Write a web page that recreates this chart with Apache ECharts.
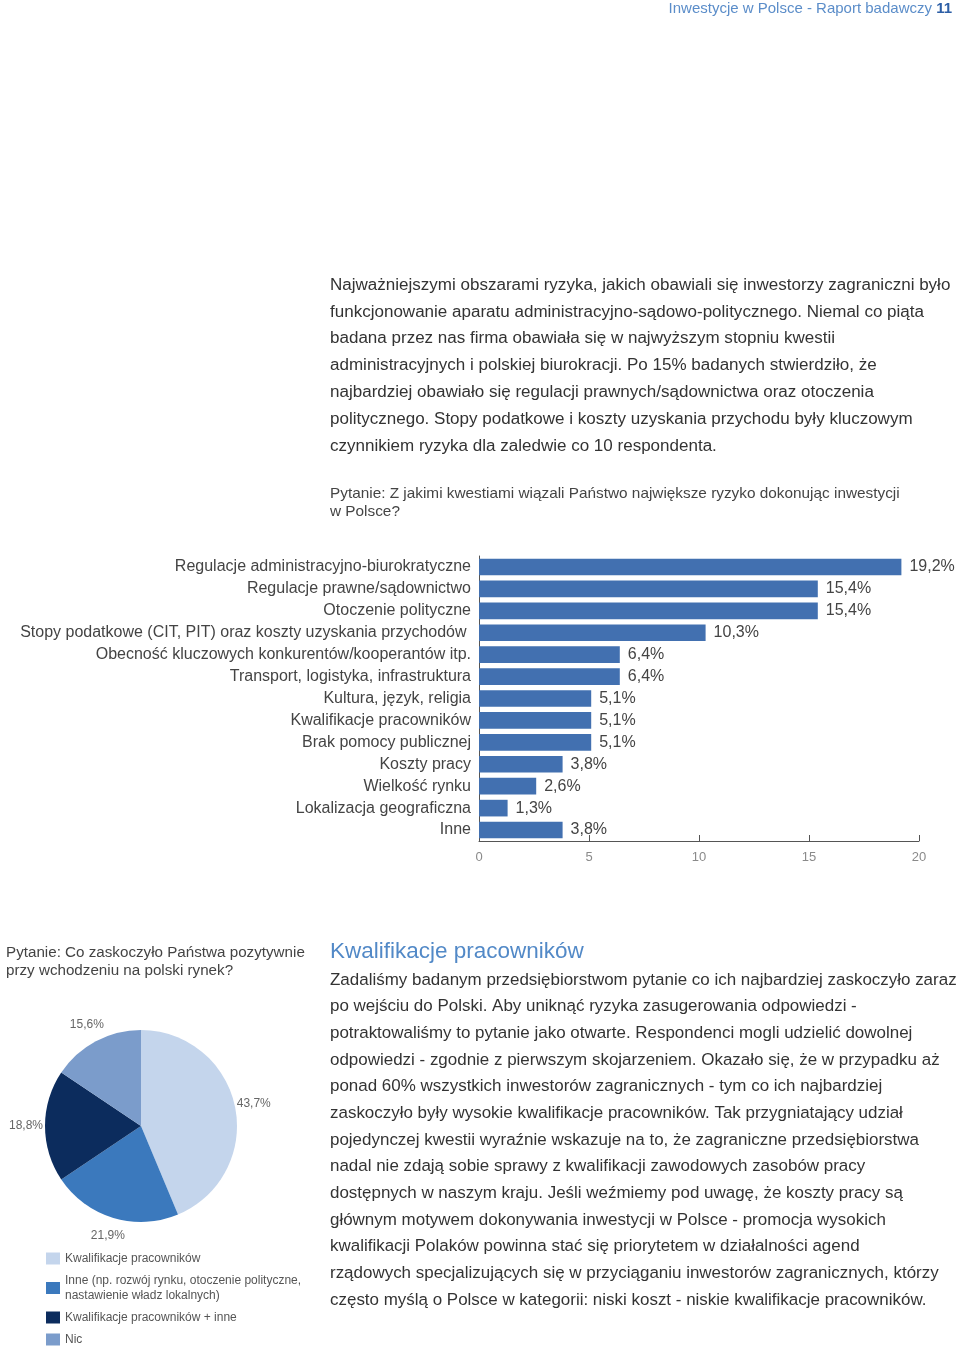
<!DOCTYPE html>
<html>
<head>
<meta charset="utf-8">
<script src="https://cdn.jsdelivr.net/npm/echarts@6/dist/echarts.min.js"></script>
<style>
html,body{margin:0;padding:0;background:#ffffff;}
#chart{width:960px;height:1349px;}
</style>
</head>
<body>
<div id="chart"></div>
<script>
// ---------- DATA ----------
const riskCategories = [
  'Regulacje administracyjno-biurokratyczne',
  'Regulacje prawne/sądownictwo',
  'Otoczenie polityczne',
  'Stopy podatkowe (CIT, PIT) oraz koszty uzyskania przychodów ',
  'Obecność kluczowych konkurentów/kooperantów itp.',
  'Transport, logistyka, infrastruktura',
  'Kultura, język, religia',
  'Kwalifikacje pracowników',
  'Brak pomocy publicznej',
  'Koszty pracy',
  'Wielkość rynku',
  'Lokalizacja geograficzna',
  'Inne'
];
const riskValues = [19.2, 15.4, 15.4, 10.3, 6.4, 6.4, 5.1, 5.1, 5.1, 3.8, 2.6, 1.3, 3.8];
const riskAxisMin = 0;
const riskAxisMax = 20;
const riskAxisStep = 5;

const surpriseNames = [
  'Kwalifikacje pracowników',
  'Inne (np. rozwój rynku, otoczenie polityczne, nastawienie władz lokalnych)',
  'Kwalifikacje pracowników + inne',
  'Nic'
];
const surpriseValues = [43.7, 21.9, 18.8, 15.6];

const headerMain = 'Inwestycje w Polsce - Raport badawczy ';
const headerPage = '11';
const paragraph1Lines = [
  'Najważniejszymi obszarami ryzyka, jakich obawiali się inwestorzy zagraniczni było',
  'funkcjonowanie aparatu administracyjno-sądowo-politycznego. Niemal co piąta',
  'badana przez nas firma obawiała się w najwyższym stopniu kwestii',
  'administracyjnych i polskiej biurokracji. Po 15% badanych stwierdziło, że',
  'najbardziej obawiało się regulacji prawnych/sądownictwa oraz otoczenia',
  'politycznego. Stopy podatkowe i koszty uzyskania przychodu były kluczowym',
  'czynnikiem ryzyka dla zaledwie co 10 respondenta.'
];
const question1Lines = [
  'Pytanie: Z jakimi kwestiami wiązali Państwo największe ryzyko dokonując inwestycji',
  'w Polsce?'
];
const question2Lines = [
  'Pytanie: Co zaskoczyło Państwa pozytywnie',
  'przy wchodzeniu na polski rynek?'
];
const sectionTitle = 'Kwalifikacje pracowników';
const paragraph2Lines = [
  'Zadaliśmy badanym przedsiębiorstwom pytanie co ich najbardziej zaskoczyło zaraz',
  'po wejściu do Polski. Aby uniknąć ryzyka zasugerowania odpowiedzi -',
  'potraktowaliśmy to pytanie jako otwarte. Respondenci mogli udzielić dowolnej',
  'odpowiedzi - zgodnie z pierwszym skojarzeniem. Okazało się, że w przypadku aż',
  'ponad 60% wszystkich inwestorów zagranicznych - tym co ich najbardziej',
  'zaskoczyło były wysokie kwalifikacje pracowników. Tak przygniatający udział',
  'pojedynczej kwestii wyraźnie wskazuje na to, że zagraniczne przedsiębiorstwa',
  'nadal nie zdają sobie sprawy z kwalifikacji zawodowych zasobów pracy',
  'dostępnych w naszym kraju. Jeśli weźmiemy pod uwagę, że koszty pracy są',
  'głównym motywem dokonywania inwestycji w Polsce - promocja wysokich',
  'kwalifikacji Polaków powinna stać się priorytetem w działalności agend',
  'rządowych specjalizujących się w przyciąganiu inwestorów zagranicznych, którzy',
  'często myślą o Polsce w kategorii: niski koszt - niskie kwalifikacje pracowników.'
];

// ---------- STYLE ----------
const FF = "'Liberation Sans', Arial, Helvetica, sans-serif";
const pieColors = ['#c4d5ec', '#3b79bd', '#0c2c5d', '#7b9ccb'];
const barColor = '#4270b0';
const blue = '#5289c7';

const measureCtx = document.createElement('canvas').getContext('2d');
function fitSize(text, target) {
  measureCtx.font = '100px ' + FF;
  return 100 * target / measureCtx.measureText(text).width;
}
function fmtPct(v) { return String(v).replace('.', ',') + '%'; }

const p1Size = fitSize(paragraph1Lines[0], 621);
const p2Size = fitSize(paragraph2Lines[0], 627);
const q1Size = fitSize(question1Lines[0], 570);
const q2Size = fitSize(question2Lines[0], 299);

function textLines(lines, x, y0, step, size, color) {
  return lines.map((t, i) => ({
    type: 'text', x: x, y: y0 + i * step, silent: true,
    style: { text: t, fontSize: size, fontFamily: FF, fill: color, align: 'left', verticalAlign: 'middle' }
  }));
}

const graphics = []
  .concat([{
    type: 'text', x: 952, y: 9, silent: true,
    style: {
      text: '{a|' + headerMain + '}{b|' + headerPage + '}',
      align: 'right', verticalAlign: 'middle', fontFamily: FF,
      rich: {
        a: { fontSize: 15, fontFamily: FF, fill: '#5b8dc9' },
        b: { fontSize: 15, fontFamily: FF, fontWeight: 'bold', fill: '#2d5fa6' }
      }
    }
  }])
  .concat(textLines(paragraph1Lines, 330, 285, 26.8, p1Size, '#333333'))
  .concat(textLines(question1Lines, 330, 494, 18, q1Size, '#444444'))
  .concat(textLines(question2Lines, 6, 953, 18, q2Size, '#444444'))
  .concat([{
    type: 'text', x: 330, y: 952, silent: true,
    style: { text: sectionTitle, fontSize: 22.5, fontFamily: FF, fill: blue, align: 'left', verticalAlign: 'middle' }
  }])
  .concat(textLines(paragraph2Lines, 330, 980, 26.67, p2Size, '#333333'));

const chart = echarts.init(document.getElementById('chart'), null, { renderer: 'canvas' });
const option = {
  animation: false,
  backgroundColor: '#ffffff',
  textStyle: { fontFamily: FF },
  grid: { left: 479, top: 556, width: 440, height: 285, containLabel: false },
  xAxis: {
    type: 'value', min: riskAxisMin, max: riskAxisMax, interval: riskAxisStep,
    axisLine: { show: true, lineStyle: { color: '#555555', width: 1 } },
    axisTick: { show: true, inside: true, length: 6, lineStyle: { color: '#555555' } },
    axisLabel: { color: '#8a8a8a', fontSize: 13, margin: 10 },
    splitLine: { show: false }
  },
  yAxis: {
    type: 'category', inverse: true, data: riskCategories,
    axisLine: { show: true, lineStyle: { color: '#555555', width: 1 } },
    axisTick: { show: false },
    axisLabel: { color: '#444444', fontSize: 16, margin: 8 }
  },
  legend: {
    orient: 'vertical', left: 46, top: 1251, height: 120, padding: 0,
    itemWidth: 14, itemHeight: 12, itemGap: 7, icon: 'rect',
    selectedMode: false,
    data: surpriseNames,
    formatter: n => n.replace(', nastawienie', ',\nnastawienie'),
    textStyle: { fontSize: 12, color: '#555555', lineHeight: 15, fontFamily: FF }
  },
  series: [
    {
      type: 'bar', data: riskValues, barCategoryGap: '24%',
      itemStyle: { color: barColor },
      label: { show: true, position: 'right', distance: 8, color: '#444444', fontSize: 16, formatter: p => fmtPct(p.value) }
    },
    {
      type: 'pie', center: [141, 1126], radius: [0, 96], startAngle: 90, clockwise: true,
      label: { show: false }, labelLine: { show: false },
      emphasis: { disabled: true },
      data: surpriseNames.map((n, i) => ({ name: n, value: surpriseValues[i], itemStyle: { color: pieColors[i] } }))
    },
    {
      type: 'pie', center: [141, 1126], radius: [99, 125], startAngle: 90, clockwise: true,
      silent: true, legendHoverLink: false,
      itemStyle: { color: 'rgba(0,0,0,0)' },
      emphasis: { disabled: true },
      label: { show: true, position: 'inside', color: '#666666', fontSize: 12, fontFamily: FF, formatter: p => fmtPct(p.value) },
      labelLine: { show: false },
      data: surpriseNames.map((n, i) => ({ name: n, value: surpriseValues[i] }))
    }
  ],
  graphic: graphics
};
chart.setOption(option);
</script>
</body>
</html>
